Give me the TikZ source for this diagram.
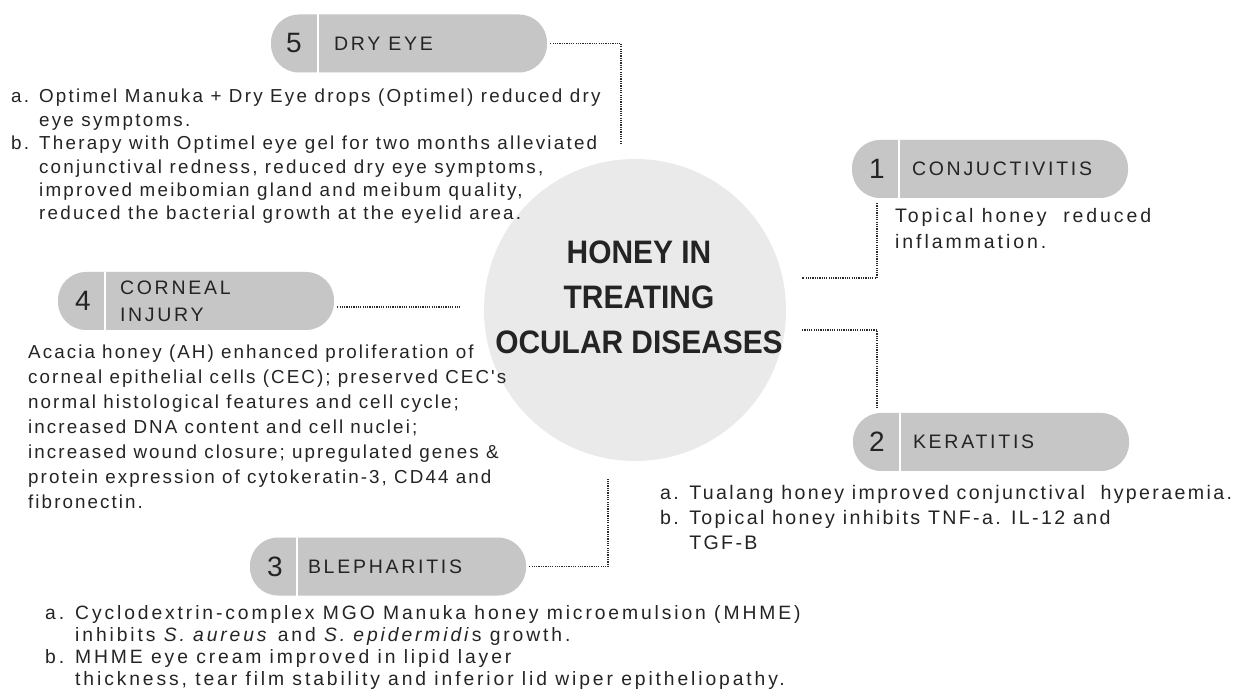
\documentclass[tikz,border=0pt]{standalone}
\usepackage{fontspec}
\setmainfont{Liberation Sans}
\newfontfamily\bodyfont[LetterSpace=12]{Liberation Sans}
\newfontfamily\widefont[LetterSpace=15]{Liberation Sans}
\newfontfamily\tightfont[LetterSpace=11]{Liberation Sans}
\newfontfamily\capsfont[LetterSpace=14]{Liberation Sans}
\newfontfamily\titlefont[FakeStretch=0.92]{Liberation Sans}
\usetikzlibrary{positioning,calc}

\definecolor{pillgray}{HTML}{C6C6C6}
\definecolor{discgray}{HTML}{EAEAEA}
\definecolor{ink}{HTML}{242424}
\definecolor{dots}{HTML}{2A2A2A}

\begin{document}
\begin{tikzpicture}[x=1pt, y=-1pt,
    pill/.style={fill=pillgray, rounded corners=28pt, minimum width=276pt, minimum height=58pt, inner sep=0pt},
    pillnum/.style={text=ink, inner sep=0pt, font=\fontsize{28}{28}\selectfont},
    pilltext/.style={text=ink, anchor=west, align=left, inner sep=0pt, font=\capsfont\fontsize{19.5}{27}\selectfont},
    body/.style={text=ink, anchor=north west, align=left, inner sep=0pt, font=\bodyfont\fontsize{19}{24}\selectfont},
    divider/.style={draw=white, line width=2pt},
    link/.style={draw=dots, line width=1.5pt, dash pattern=on 1.2pt off 1.1pt}]
    \useasboundingbox[fill=white] (0,0) rectangle (1235,700);

    % centre
    \node[circle, fill=discgray, minimum size=302pt, inner sep=0pt] (disc) at (635,310) {};
    \node[text=ink, align=center, font=\titlefont\bfseries\fontsize{32.5}{45}\selectfont] (title) at (639,297)
        {HONEY IN\\TREATING\\OCULAR DISEASES};

    % pills
    \node[pill] (p5) at (409,43.5) {};
    \node[pill] (p1) at (990,169) {};
    \node[pill] (p2) at (991,442) {};
    \node[pill] (p4) at (196,301) {};
    \node[pill] (p3) at (388,566.5) {};
    \foreach \p in {p1,p2,p3,p4,p5}
        \draw[divider] ($(\p.north west)+(47,0)$) -- ($(\p.south west)+(47,0)$);

    \node[pillnum] (n5) at ($(p5.west)+(23,0)$) {5};
    \node[pilltext] (t5) at ($(p5.west)+(63,0)$) {DRY EYE};
    \node[pillnum] (n1) at ($(p1.west)+(25,0)$) {1};
    \node[pilltext] (t1) at ($(p1.west)+(60,0)$) {CONJUCTIVITIS};
    \node[pillnum] (n2) at ($(p2.west)+(24,0)$) {2};
    \node[pilltext] (t2) at ($(p2.west)+(60,0)$) {KERATITIS};
    \node[pillnum] (n4) at ($(p4.west)+(25,0)$) {4};
    \node[pilltext] (t4) at ($(p4.west)+(62,0)$) {CORNEAL\\INJURY};
    \node[pillnum] (n3) at ($(p3.west)+(25,0)$) {3};
    \node[pilltext] (t3) at ($(p3.west)+(58,0)$) {BLEPHARITIS};

    % findings
    \node[body, font=\bodyfont\fontsize{18.8}{23.4}\selectfont] (d5) at (11,89)
        {a. Optimel Manuka + Dry Eye drops (Optimel) reduced dry\\
         \phantom{a. }eye symptoms.\\
         b. Therapy with Optimel eye gel for two months alleviated\\
         \phantom{b. }conjunctival redness, reduced dry eye symptoms,\\
         \phantom{b. }improved meibomian gland and meibum quality,\\
         \phantom{b. }reduced the bacterial growth at the eyelid area.};
    \node[body, font=\widefont\fontsize{19.5}{26}\selectfont] (d1) at (895,208)
        {Topical honey\ \ reduced\\inflammation.};
    \node[body, font=\tightfont\fontsize{18.8}{25}\selectfont] (d4) at (28,345)
        {Acacia honey (AH) enhanced proliferation of\\
         corneal epithelial cells (CEC); preserved CEC's\\
         normal histological features and cell cycle;\\
         increased DNA content and cell nuclei;\\
         increased wound closure; upregulated genes \&\\
         protein expression of cytokeratin-3, CD44 and\\
         fibronectin.};
    \node[body, font=\bodyfont\fontsize{19.6}{25}\selectfont] (d2) at (660,485)
        {a. Tualang honey improved conjunctival\ \ hyperaemia.\\
         b. Topical honey inhibits TNF-a. IL-12 and\\
         \phantom{b. }TGF-B};
    \node[body, font=\widefont\fontsize{19.3}{22}\selectfont] (d3) at (45,605)
        {a. Cyclodextrin-complex MGO Manuka honey microemulsion (MHME)\\
         \phantom{a. }inhibits \textit{S. aureus} and \textit{S. epidermidi}s growth.\\
         b. MHME eye cream improved in lipid layer\\
         \phantom{b. }thickness, tear film stability and inferior lid wiper epitheliopathy.};

    % dotted links
    \coordinate (c5) at (621,143);
    \coordinate (c1) at (802,278);
    \coordinate (c2) at (802,330);
    \coordinate (c4) at (461,307);
    \coordinate (c3) at (608,478);
    \draw[link] ($(p5.east)+(3,0)$) -| (c5);
    \draw[link] ($(p1.south -| n1)+(0,5)$) |- (c1);
    \draw[link] (c2) -| ($(p2.north -| n2)+(0,-5)$);
    \draw[link] ($(p4.east)+(3,6)$) -- (c4);
    \draw[link] ($(p3.east)+(3,0)$) -| (c3);
\end{tikzpicture}
\end{document}
